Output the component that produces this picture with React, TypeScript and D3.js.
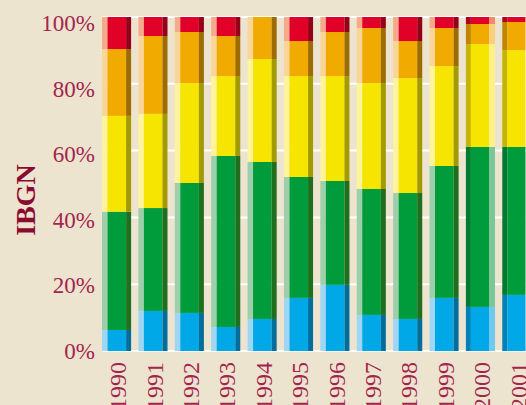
import * as d3 from "d3"

const years = ["1990", "1991", "1992", "1993", "1994", "1995", "1996", "1997", "1998", "1999", "2000", "2001"]
const classes = ["Très bonne", "Bonne", "Passable", "Médiocre", "Mauvaise"]

// share of stations per quality class (%)
const tresBonne = [6.3, 12, 11.4, 7.2, 9.6, 15.9, 19.8, 10.8, 9.6, 15.9, 13.2, 16.8]
const bonne = [35.4, 30.8, 38.9, 51.2, 47, 36.2, 31.1, 37.7, 37.7, 39.5, 47.9, 44.3]
const passable = [28.7, 28.2, 29.9, 23.9, 30.8, 30.2, 31.4, 31.7, 34.4, 29.9, 30.8, 29]
const mediocre = [20, 23.3, 15.3, 12, 12.6, 10.5, 13.2, 16.5, 11.1, 11.4, 6, 8.4]
const mauvaise = [9.6, 5.7, 4.5, 5.7, 0, 7.2, 4.5, 3.3, 7.2, 3.3, 2.1, 1.5]

const yTicks = [0, 20, 40, 60, 80, 100]

const palette = [
  { main: "#00a8e8", light: "#9ed6f3", dark: "#006e9c", flipDark: "#0082b8", flipLight: "#72c9f0" },
  { main: "#009b3a", light: "#9dcfaa", dark: "#1f6f1e", flipDark: "#007a30", flipLight: "#7cc697" },
  { main: "#f6e500", light: "#fff39c", dark: "#a39a00", flipDark: "#c7b400", flipLight: "#fff08a" },
  { main: "#f0aa00", light: "#f9d598", dark: "#9c6c00", flipDark: "#bf8400", flipLight: "#fbcf80" },
  { main: "#e10027", light: "#f5ab8a", dark: "#950018", flipDark: "#b2001f", flipLight: "#f08a68" },
]

const W = 526
const H = 405
const serif = "'Liberation Serif', 'DejaVu Serif', serif"

export default function App() {
  const table = years.map((year, i) => ({
    year,
    [classes[0]]: tresBonne[i],
    [classes[1]]: bonne[i],
    [classes[2]]: passable[i],
    [classes[3]]: mediocre[i],
    [classes[4]]: mauvaise[i],
  }))
  const series = d3.stack<any>().keys(classes)(table)

  const x = d3.scaleBand().domain(years).range([102, 531.4]).paddingInner(0.2).paddingOuter(0)
  const y = d3.scaleLinear().domain([0, 100]).range([351, 17])
  const yLabel = d3.scaleLinear().domain([0, 100]).range([351, 23.5])
  const bw = x.bandwidth()

  return (
    <svg
      width={W}
      height={H}
      style={{ position: "absolute", left: 0, top: 0, background: "#ede4d0" }}
    >
      <rect width={W} height={H} fill="#ede4d0" />
      {/* gridlines */}
      {yTicks.map((t) => (
        <line key={t} x1={102} x2={W} y1={y(t)} y2={y(t)} stroke="#ffffff" strokeWidth={2} />
      ))}
      {/* bars */}
      {series.map((s, k) =>
        s.map((d, i) => {
          const year = years[i]
          const x0 = x(year)!
          const top = y(d[1])
          const h = y(d[0]) - y(d[1])
          if (h <= 0) return null
          const c = palette[k]
          const flipped = i >= 10
          const leftW = flipped ? 5 : 5.5
          const rightW = flipped ? 6 : 5
          return (
            <g key={`${k}-${i}`}>
              <rect x={x0} y={top} width={leftW} height={h} fill={flipped ? c.flipDark : c.light} />
              <rect x={x0 + leftW} y={top} width={bw - leftW - rightW} height={h} fill={c.main} />
              <rect x={x0 + bw - rightW} y={top} width={rightW} height={h} fill={flipped ? c.flipLight : c.dark} />
            </g>
          )
        }),
      )}
      {/* y tick labels */}
      {yTicks.map((t) => (
        <text
          key={t}
          x={95}
          y={yLabel(t)}
          dy="0.34em"
          textAnchor="end"
          fontFamily={serif}
          fontSize={23}
          fill="#a3244d"
        >
          {t}%
        </text>
      ))}
      {/* x labels */}
      {years.map((yr) => {
        const cx = x(yr)! + bw / 2 + 1.5
        return (
          <text
            key={yr}
            transform={`translate(${cx},362) rotate(-90)`}
            dy="0.34em"
            textAnchor="end"
            fontFamily={serif}
            fontSize={24}
            fill="#a3244d"
          >
            {yr}
          </text>
        )
      })}
      {/* axis title */}
      <text
        transform="translate(25,200) rotate(-90)"
        dy="0.35em"
        textAnchor="middle"
        fontFamily={serif}
        fontWeight="bold"
        fontSize={28}
        fill="#8c0a32"
      >
        IBGN
      </text>
    </svg>
  )
}
